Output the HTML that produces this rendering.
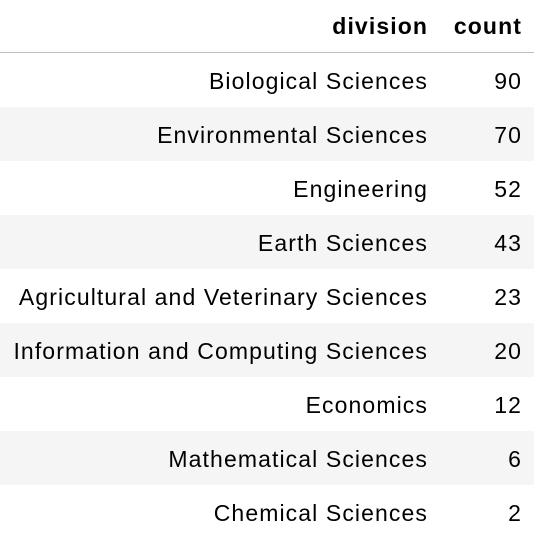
<!DOCTYPE html>
<html><head><meta charset="utf-8"><style>
html,body{margin:0;padding:0;background:#fff;width:546px;height:552px;overflow:hidden}
table{border-collapse:collapse;font-family:"Liberation Sans",Arial,sans-serif;font-size:23px;letter-spacing:1.1px;color:#000;position:absolute;left:0;top:0;width:534px}
th{font-weight:bold;text-align:right;height:52px;padding:0 12px 0 0;border-bottom:1.5px solid #bdbdbd;vertical-align:middle}
td{text-align:right;height:54px;padding:3px 12px 0 0;box-sizing:border-box;vertical-align:middle}
tr.alt td{background:#f5f5f5}
</style></head><body>
<table>
<thead><tr><th>division</th><th style="width:82px">count</th></tr></thead>
<tbody>
<tr><td>Biological Sciences</td><td>90</td></tr>
<tr class="alt"><td>Environmental Sciences</td><td>70</td></tr>
<tr><td>Engineering</td><td>52</td></tr>
<tr class="alt"><td>Earth Sciences</td><td>43</td></tr>
<tr><td>Agricultural and Veterinary Sciences</td><td>23</td></tr>
<tr class="alt"><td>Information and Computing Sciences</td><td>20</td></tr>
<tr><td>Economics</td><td>12</td></tr>
<tr class="alt"><td>Mathematical Sciences</td><td>6</td></tr>
<tr><td>Chemical Sciences</td><td>2</td></tr>
</tbody></table>
</body></html>
